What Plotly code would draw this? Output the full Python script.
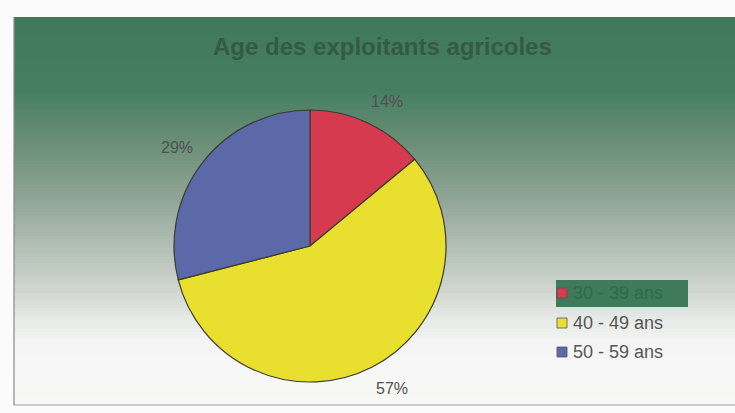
import math
import plotly.graph_objects as go

# Age groups of farm operators
categories = ["30 - 39 ans", "40 - 49 ans", "50 - 59 ans"]
shares = [14, 57, 29]
slice_colors = ["#d63a4e", "#e9df2e", "#5b69a8"]
title_text = "Age des exploitants agricoles"

W, H = 735, 413


def px(x):
    return x / W


def py(y):
    return 1 - y / H


shapes = []

# chart frame with vertical green-to-white gradient
stops = [
    (17, (64, 120, 92)),
    (90, (70, 126, 98)),
    (140, (104, 142, 118)),
    (200, (145, 165, 150)),
    (250, (180, 193, 183)),
    (290, (208, 214, 207)),
    (320, (232, 234, 231)),
    (345, (245, 245, 245)),
    (405, (248, 248, 247)),
]


def grad(y):
    for (y0, c0), (y1, c1) in zip(stops[:-1], stops[1:]):
        if y0 <= y <= y1:
            t = (y - y0) / (y1 - y0)
            return tuple(int(round(a + (b - a) * t)) for a, b in zip(c0, c1))
    return stops[-1][1]


top, bottom, left, right = 17, 405, 14, 735
step = 3
y = top
while y < bottom:
    r, g, b = grad(y + step / 2)
    shapes.append(dict(type="rect", xref="paper", yref="paper",
                       x0=px(left), x1=px(right), y0=py(min(y + step, bottom)), y1=py(y),
                       fillcolor=f"rgb({r},{g},{b})", line=dict(width=0), layer="below"))
    y += step

# frame edges
shapes.append(dict(type="line", xref="paper", yref="paper", x0=px(left), x1=px(left),
                   y0=py(bottom), y1=py(top), line=dict(color="#8a8a8a", width=1.2)))
shapes.append(dict(type="line", xref="paper", yref="paper", x0=px(left), x1=px(right),
                   y0=py(bottom), y1=py(bottom), line=dict(color="#9a9a9a", width=1.2)))

# pie geometry
cx, cy, rad = 310, 246, 136

fig = go.Figure(go.Pie(
    labels=categories,
    values=shares,
    sort=False,
    direction="clockwise",
    rotation=0,
    marker=dict(colors=slice_colors, line=dict(color="#3b3b30", width=1.2)),
    textinfo="none",
    hoverinfo="label+percent",
    showlegend=False,
    domain=dict(x=[px(cx - rad), px(cx + rad)], y=[py(cy + rad), py(cy - rad)]),
))

annotations = []

# percentage labels outside the slices
total = sum(shares)
cum = 0
label_r = 160
for v in shares:
    mid = (cum + v / 2) / total * 2 * math.pi
    cum += v
    s, c = math.sin(mid), math.cos(mid)
    lx = cx + label_r * s + (9 if s > 0 else -7)
    ly = cy - label_r * c
    annotations.append(dict(x=px(lx), y=py(ly), xref="paper", yref="paper",
                            xanchor="center", yanchor="middle",
                            text=f"{round(v / total * 100)}%", showarrow=False,
                            font=dict(family="Liberation Sans, Arial", size=16, color="#505050")))

# title
annotations.append(dict(x=px(382), y=py(47), xref="paper", yref="paper",
                        text=f"<b>{title_text}</b>",
                        xanchor="center", yanchor="middle", showarrow=False,
                        font=dict(family="Liberation Sans, Arial", size=24, color="#335a44")))

# legend
leg_x0, leg_x1 = 556, 688
row_y = [293, 323, 352]
shapes.append(dict(type="rect", xref="paper", yref="paper", x0=px(leg_x0), x1=px(leg_x1),
                   y0=py(307), y1=py(280), fillcolor="#3f7a5a", line=dict(width=0)))
text_colors = ["#2f6a48", "#555555", "#555555"]
for name, col, ry, tc in zip(categories, slice_colors, row_y, text_colors):
    shapes.append(dict(type="rect", xref="paper", yref="paper",
                       x0=px(557), x1=px(567), y0=py(ry + 5), y1=py(ry - 5),
                       fillcolor=col, line=dict(color="#555555", width=0.8)))
    annotations.append(dict(x=px(571), y=py(ry), xref="paper", yref="paper", text=name,
                            showarrow=False, xanchor="left", yanchor="middle",
                            font=dict(family="Liberation Sans, Arial", size=18, color=tc)))

fig.update_layout(
    width=W, height=H,
    margin=dict(l=0, r=0, t=0, b=0),
    paper_bgcolor="#fbfbfb",
    plot_bgcolor="rgba(0,0,0,0)",
    shapes=shapes,
    annotations=annotations,
)

fig.write_html("out.html")
